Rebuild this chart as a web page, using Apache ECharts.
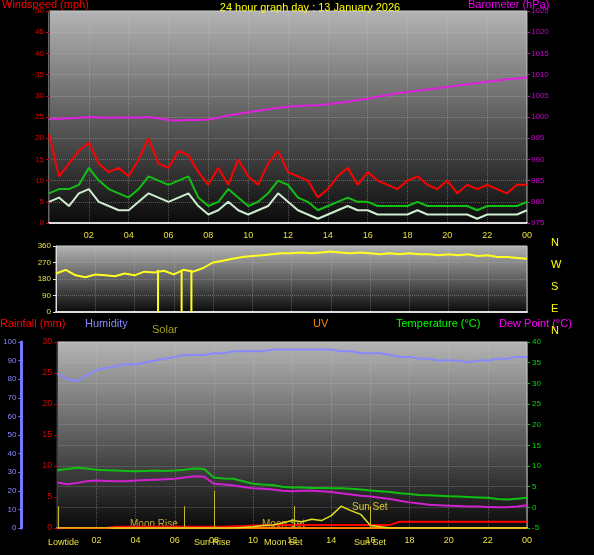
<!DOCTYPE html>
<html>
<head>
<meta charset="utf-8">
<script src="https://cdn.jsdelivr.net/npm/echarts@6/dist/echarts.min.js"></script>
<style>html,body{margin:0;background:#000}#c{width:594px;height:555px}</style>
</head>
<body>
<div id="c"></div>
<script>
// half-hourly samples, 00:00 .. 24:00
const hours = Array.from({ length: 49 }, (_, i) => i / 2);
const gust = [21,11,14,17,19,14,12,13,11,15,20,14,13,17,16,12,9,13,9,15,11,9,14,17,12,11,10,6,8,11,13,9,12,10,9,8,10,11,9,8,10,7,9,8,9,8,7,9,9];
const avgWind = [7,8,8,9,13,10,8,7,6,8,11,10,9,10,11,6,4,5,8,6,4,5,7,10,9,6,5,3,4,5,6,5,5,4,4,4,4,5,4,4,4,4,4,3,4,4,4,4,5];
const windSpeed = [5,6,4,7,8,5,4,3,3,5,7,6,5,6,7,4,2,3,5,3,2,3,4,7,5,3,2,1,2,3,4,3,3,2,2,2,2,3,2,2,2,2,2,1,2,2,2,2,3];
const baro = [999.5,999.6,999.7,999.8,1000,999.9,999.8,999.9,999.9,999.9,1000,999.7,999.3,999.2,999.3,999.3,999.4,999.8,1000.4,1000.7,1001.1,1001.5,1001.8,1002.2,1002.4,1002.6,1002.7,1002.8,1003,1003.3,1003.6,1004,1004.3,1004.8,1005.2,1005.6,1005.9,1006.2,1006.5,1006.8,1007.1,1007.4,1007.7,1008,1008.3,1008.6,1008.9,1009.1,1009.3];
const direction = [210,230,200,190,205,200,195,210,200,220,215,225,205,230,220,240,270,280,290,300,305,310,315,320,320,325,320,325,330,325,320,325,320,315,320,315,320,315,315,310,315,310,315,305,310,300,300,295,290];
const dirSpikes = [5.2, 6.4, 6.9];
const temp = [9,9.3,9.6,9.4,9.1,9,8.9,8.8,8.7,8.8,8.9,8.8,8.9,9.1,9.4,9.3,7.2,7,6.9,6.3,5.7,5.5,5.4,5,4.8,4.8,4.7,4.7,4.6,4.6,4.5,4.3,4.1,3.9,3.7,3.4,3.2,3,2.9,2.8,2.7,2.6,2.5,2.4,2.3,2,1.9,2.1,2.3];
const dewPoint = [6,5.6,5.9,6.3,6.5,6.4,6.3,6.3,6.5,6.6,6.7,6.8,6.9,7.2,7.5,7.4,5.7,5.5,5.3,4.9,4.6,4.5,4.3,4,3.9,4,4,3.9,3.7,3.4,3.1,2.8,2.6,2.3,2,1.6,1.2,0.9,0.6,0.5,0.4,0.3,0.2,0.2,0.1,0,0,0.2,0.5];
const humidity = [83,80,79,82,85,86,87,88,88,89,90,91,92,93,93,93,94,94,95,95,95,95,96,96,96,96,96,96,96,95,95,94,94,94,93,92,92,91,91,90,90,90,89,90,90,91,91,92,92];
const solar = [0,0,0,0,0,0,0,0,0,0,0,0,0,0,0,0,0,0,0,1,2,4,5,8,12,10,14,12,20,35,28,22,4,2,0,0,0,0,0,0,0,0,0,0,0,0,0,0,0];
const rain = [0,0,0,0,0,0,0.2,0.2,0.2,0.2,0.2,0.2,0.2,0.2,0.2,0.2,0.2,0.2,0.3,0.3,0.4,0.4,0.5,0.5,0.5,0.5,0.5,0.5,0.5,0.5,0.5,0.5,0.5,0.5,0.5,1,1,1,1,1,1,1,1,1,1,1,1,1,1];
const uv = hours.map(() => 0);
const dirLetters = ["N", "W", "S", "E", "N"];
const eventTimes = [0.05, 6.5, 8, 12.1, 16];

const pair = arr => hours.map((h, i) => [h, arr[i]]);
const grad = { type: "linear", x: 0, y: 0, x2: 0, y2: 1,
  colorStops: [{ offset: 0, color: "#b4b4b4" }, { offset: 1, color: "#0a0a0a" }] };
const gridLine = { show: true, lineStyle: { color: "rgba(200,200,200,0.35)", type: "dotted" } };
const font = "Liberation Sans";
const txt = (x, y, s, c, size) => ({ type: "text", left: x, top: y, style: { text: s, fill: c, font: (size || 11) + "px Liberation Sans" } });

const xAxisBase = (gi, showLabels) => ({
  type: "value", gridIndex: gi, min: 0, max: 24, interval: 2,
  axisLine: { lineStyle: { color: "#ddd", width: 2 } },
  axisTick: { show: false }, splitLine: gridLine,
  axisLabel: { show: showLabels, color: "#e8e040", fontSize: 9, fontFamily: font,
    formatter: v => (v === 0 ? "" : String(v % 24).padStart(2, "0")) }
});
const yAx = (gi, o) => Object.assign({
  type: "value", gridIndex: gi, splitLine: { show: false },
  axisLine: { show: true, lineStyle: { color: "#c00" } },
  axisTick: { show: true, length: 3 },
  axisLabel: { fontSize: 8, fontFamily: font, margin: 5 }
}, o);

const chart = echarts.init(document.getElementById("c"));
chart.setOption({
  animation: false,
  backgroundColor: "#000",
  textStyle: { fontFamily: font },
  grid: [
    { left: 49, right: 67, top: 11, height: 212, show: true, backgroundColor: grad, borderColor: "#ccc" },
    { left: 56, right: 67, top: 246, height: 66, show: true, backgroundColor: grad, borderColor: "#ccc" },
    { left: 56, right: 67, top: 342, height: 186, show: true, backgroundColor: grad, borderColor: "#ccc" }
  ],
  xAxis: [xAxisBase(0, true), xAxisBase(1, false), xAxisBase(2, true)],
  yAxis: [
    yAx(0, { min: 0, max: 50, interval: 5, splitLine: gridLine, axisLabel: { color: "#d00", fontSize: 8, margin: 5 } }),
    yAx(0, { min: 975, max: 1025, interval: 5, position: "right", axisLine: { show: true, lineStyle: { color: "#c0c" } }, axisLabel: { color: "#c0c", fontSize: 8, margin: 4, formatter: v => String(v) } }),
    yAx(1, { min: 0, max: 360, interval: 90, splitLine: gridLine, axisLine: { show: true, lineStyle: { color: "#ddd" } }, axisLabel: { color: "#e8e040", fontSize: 8, margin: 5 } }),
    yAx(2, { min: 0, max: 30, interval: 5, position: "left", axisLabel: { color: "#d00", fontSize: 9, margin: 5 } }),
    yAx(2, { min: 0, max: 100, interval: 10, position: "left", offset: 36, axisLine: { show: true, lineStyle: { color: "#77f", width: 3 } }, axisLabel: { color: "#88f", fontSize: 8, margin: 5 } }),
    yAx(2, { min: -5, max: 40, interval: 5, position: "right", splitLine: gridLine, axisLine: { show: true, lineStyle: { color: "#0c0" } }, axisLabel: { color: "#0d0", fontSize: 8, margin: 5 } }),
    yAx(2, { min: 0, max: 300, show: false })
  ],
  title: [
    { text: "24 hour graph day : 13 January 2026", left: 305, textAlign: "center", top: -3, textStyle: { color: "#ffff00", fontSize: 11, fontWeight: "normal" } }
  ],
  graphic: [
    txt(2, -1, "Windspeed (mph)", "#f00"),
    txt(468, -1, "Barometer (hPa)", "#e0e"),
    txt(0, 318, "Rainfall (mm)", "#f00"),
    txt(85, 318, "Humidity", "#88f"),
    txt(152, 324, "Solar", "#a0a020"),
    txt(313, 318, "UV", "#f80"),
    txt(396, 318, "Temperature (°C)", "#0f0"),
    txt(499, 318, "Dew Point (°C)", "#f0f"),
    txt(48, 538, "Lowtide", "#e8e040", 9),
    txt(194, 538, "Sun Rise", "#e8e040", 9),
    txt(264, 538, "Moon Set", "#e8e040", 9),
    txt(354, 538, "Sun Set", "#e8e040", 9),
    txt(130, 519, "Moon Rise", "#c8a830", 10),
    txt(262, 519, "Moon Set", "#c8a830", 10),
    txt(352, 502, "Sun Set", "#d8c830", 10),
    ...dirLetters.map((l, i) => txt(551, 237 + i * 22, l, "#ffff00"))
  ],
  series: [
    { type: "line", xAxisIndex: 0, yAxisIndex: 0, data: pair(gust), symbol: "none", lineStyle: { color: "#f00", width: 2 } },
    { type: "line", xAxisIndex: 0, yAxisIndex: 0, data: pair(windSpeed), symbol: "none", lineStyle: { color: "#cfeccf", width: 2 } },
    { type: "line", xAxisIndex: 0, yAxisIndex: 0, data: pair(avgWind), symbol: "none", lineStyle: { color: "#11c011", width: 2 } },
    { type: "line", xAxisIndex: 0, yAxisIndex: 1, data: pair(baro), symbol: "none", lineStyle: { color: "#e020e0", width: 2 } },
    { type: "line", xAxisIndex: 1, yAxisIndex: 2, data: pair(direction), symbol: "none", lineStyle: { color: "#ffff20", width: 2 } },
    { type: "bar", xAxisIndex: 1, yAxisIndex: 2, data: dirSpikes.map(t => [t, 230]), barWidth: 2, itemStyle: { color: "#ffff20" } },
    { type: "line", xAxisIndex: 2, yAxisIndex: 4, data: pair(humidity), symbol: "none", lineStyle: { color: "#8888ff", width: 2 } },
    { type: "line", xAxisIndex: 2, yAxisIndex: 5, data: pair(temp), symbol: "none", lineStyle: { color: "#10c010", width: 2 } },
    { type: "line", xAxisIndex: 2, yAxisIndex: 5, data: pair(dewPoint), symbol: "none", lineStyle: { color: "#d020d0", width: 2 } },
    { type: "line", xAxisIndex: 2, yAxisIndex: 3, data: pair(uv), symbol: "none", lineStyle: { color: "#ff8000", width: 2 } },
    { type: "line", xAxisIndex: 2, yAxisIndex: 3, data: pair(rain), symbol: "none", lineStyle: { color: "#ff0000", width: 2 } },
    { type: "line", xAxisIndex: 2, yAxisIndex: 6, data: pair(solar), symbol: "none", lineStyle: { color: "#e0e020", width: 1.5 },
      markLine: { symbol: "none", silent: true, label: { show: false }, lineStyle: { color: "#c8b820", type: "solid", width: 1 },
        data: eventTimes.map(t => [{ coord: [t, 0] }, { coord: [t, t > 7 && t < 9 ? 60 : 35] }]) } }
  ]
});
</script>
</body>
</html>
